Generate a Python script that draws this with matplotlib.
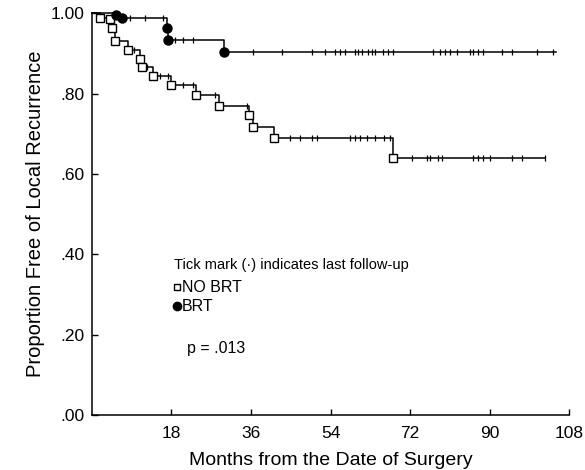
import numpy as np
import matplotlib.pyplot as plt

# Kaplan-Meier style data (months, proportion)
nobrt_event_months = [1.8, 4.2, 4.6, 5.2, 8.2, 10.9, 11.3, 13.9, 18.0, 23.5, 28.8, 35.5, 36.5, 41.2, 68.1]
nobrt_levels = [0.988, 0.985, 0.963, 0.930, 0.908, 0.885, 0.866, 0.843, 0.821, 0.796, 0.769, 0.746, 0.717, 0.690, 0.639]
nobrt_censor_months = [6.0, 9.5, 12.5, 15.5, 17.2, 20.6, 22.9, 27.8, 35.1,
                       44.8, 47.1, 49.8, 50.9, 58.4, 59.5, 60.6, 62.2, 64.0, 66.1, 67.5,
                       72.4, 75.8, 76.5, 78.3, 79.2, 86.2, 87.3, 88.5, 90.0, 95.0, 97.3, 102.5]
nobrt_end = 102.5

brt_event_months = [5.5, 6.8, 17.0, 17.3, 30.0]
brt_levels = [0.995, 0.988, 0.963, 0.934, 0.903]
brt_censor_months = [8.6, 12.0, 16.0, 18.8, 20.6, 22.9, 36.4, 43.0, 49.8, 52.7,
                     55.0, 56.1, 57.2, 59.5, 60.2, 61.1, 62.4, 63.3, 64.0, 65.8, 66.9, 68.1,
                     77.1, 78.7, 79.9, 81.0, 82.6, 85.5, 86.2, 87.3, 88.5, 92.8, 95.0, 100.7, 104.3]
brt_end = 105.0

x_ticks = [18, 36, 54, 72, 90, 108]
y_ticks = [0.0, 0.2, 0.4, 0.6, 0.8, 1.0]
y_tick_labels = ['.00', '.20', '.40', '.60', '.80', '1.00']

plt.rcParams['font.family'] = ['Liberation Sans', 'DejaVu Sans']

fig = plt.figure(figsize=(5.85, 4.70), dpi=100)
ax = fig.add_axes([0.157, 0.117, 0.816, 0.855])


def draw_curve(events, levels, censors, end, marker, face):
    t = np.concatenate([[0.0], events, [end]])
    s = np.concatenate([[1.0], levels, [levels[-1]]])
    ax.step(t, s, where='post', color='black', lw=1.1, clip_on=False, zorder=2)
    # censor ticks sit on the curve at the level in force at that time
    idx = np.searchsorted(t, censors, side='right') - 1
    ax.plot(censors, s[idx], linestyle='none', marker='|', ms=4, mew=0.9,
            color='black', clip_on=False, zorder=3)
    ax.plot(events, levels, linestyle='none', marker=marker, ms=6 if marker == 's' else 6.5,
            mfc=face, mec='black', mew=1.0, clip_on=False, zorder=4)


draw_curve(nobrt_event_months, nobrt_levels, nobrt_censor_months, nobrt_end, 's', 'white')
draw_curve(brt_event_months, brt_levels, brt_censor_months, brt_end, 'o', 'black')

ax.set_xlim(0, 108)
ax.set_ylim(0, 1.0)
ax.set_xticks(x_ticks)
ax.set_yticks(y_ticks)
ax.set_yticklabels(y_tick_labels)
ax.tick_params(direction='in', length=4, width=1, labelsize=12.5)
ax.tick_params(axis='x', pad=8)
ax.tick_params(axis='y', pad=5)
for side in ['top', 'right']:
    ax.spines[side].set_visible(False)
for side in ['left', 'bottom']:
    ax.spines[side].set_linewidth(1.1)

ax.set_xlabel('Months from the Date of Surgery', fontsize=14, labelpad=8)
ax.set_ylabel('Proportion Free of Local Recurrence', fontsize=14.5, labelpad=4)

# legend block
ax.text(18.5, 0.373, 'Tick mark (·) indicates last follow-up', fontsize=10.5, va='center')
ax.plot([19.2], [0.318], marker='s', ms=5, mfc='white', mec='black', mew=1.0)
ax.text(20.3, 0.318, 'NO BRT', fontsize=11.5, va='center')
ax.plot([19.2], [0.271], marker='o', ms=6, mfc='black', mec='black')
ax.text(20.3, 0.269, 'BRT', fontsize=11.5, va='center')
ax.text(21.5, 0.165, 'p = .013', fontsize=11.5, va='center')

fig.savefig('out.png', dpi=100)
